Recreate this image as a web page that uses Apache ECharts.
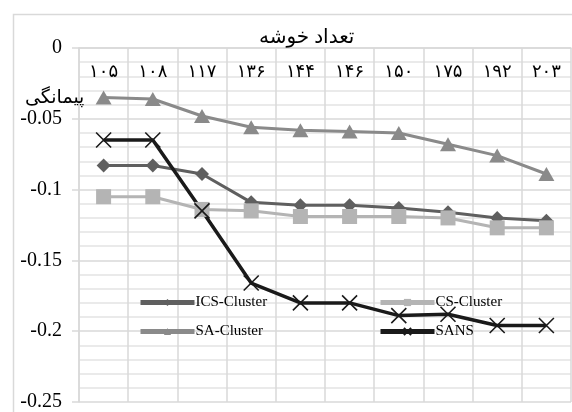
<!DOCTYPE html>
<html>
<head>
<meta charset="utf-8">
<script src="https://cdn.jsdelivr.net/npm/echarts@6/dist/echarts.min.js"></script>
<style>
html,body{margin:0;padding:0;background:#fff;}
#chart{width:572px;height:412px;}
</style>
</head>
<body>
<div id="chart"></div>
<script>
const categories = ['۱۰۵','۱۰۸','۱۱۷','۱۳۶','۱۴۴','۱۴۶','۱۵۰','۱۷۵','۱۹۲','۲۰۳'];
const icsCluster = [-0.083,-0.083,-0.089,-0.109,-0.111,-0.111,-0.113,-0.116,-0.120,-0.122];
const csCluster  = [-0.105,-0.105,-0.114,-0.115,-0.119,-0.119,-0.119,-0.120,-0.127,-0.127];
const saCluster  = [-0.035,-0.036,-0.048,-0.056,-0.058,-0.059,-0.060,-0.068,-0.076,-0.089];
const sans       = [-0.065,-0.065,-0.115,-0.166,-0.180,-0.180,-0.189,-0.188,-0.196,-0.196];
const xTitle = 'تعداد خوشه';
const yTitle = 'پیمانگی';

const serif = "'Liberation Serif','Times New Roman','DejaVu Serif','DejaVu Sans',serif";
const gridColor = '#d9d9d9';
const xPath = 'path://M0,0L10,10M10,0L0,10';

const chart = echarts.init(document.getElementById('chart'));
chart.setOption({
  animation:false,
  backgroundColor:'#fff',
  graphic:[{type:'rect',left:11,top:12,shape:{width:620,height:460},style:{fill:'none',stroke:gridColor,lineWidth:1.5},silent:true}],
  title:[
    {text:xTitle,left:254,top:23,textStyle:{fontFamily:serif,fontSize:20,fontWeight:'normal',color:'#000'}},
    {text:yTitle,left:20,top:84,textStyle:{fontFamily:serif,fontSize:19,fontWeight:'normal',color:'#000'}}
  ],
  grid:{left:79,right:1,top:48,bottom:8,containLabel:false},
  legend:[
    {orient:'vertical',left:133,top:290,itemGap:14,itemWidth:54,itemHeight:9,
     lineStyle:{width:5},
     data:['ICS-Cluster','SA-Cluster'],textStyle:{fontFamily:serif,fontSize:15,color:'#000',padding:[0,0,0,-4]}},
    {orient:'vertical',left:373,top:290,itemGap:14,itemWidth:54,itemHeight:9,
     lineStyle:{width:5},
     data:['CS-Cluster','SANS'],textStyle:{fontFamily:serif,fontSize:15,color:'#000',padding:[0,0,0,-4]}}
  ],
  xAxis:{type:'category',position:'top',data:categories,boundaryGap:true,
    axisLine:{show:true,lineStyle:{color:gridColor,width:1.5}},
    axisTick:{show:false},
    axisLabel:{inside:true,margin:15,fontFamily:serif,fontSize:18,color:'#000'},
    splitLine:{show:true,lineStyle:{color:gridColor,width:1.5}}},
  yAxis:{type:'value',min:-0.25,max:0,interval:0.05,
    axisLine:{show:true,lineStyle:{color:gridColor,width:1.5}},
    axisTick:{show:true,length:7,lineStyle:{color:gridColor,width:1.5}},
    axisLabel:{margin:17,fontFamily:serif,fontSize:20,color:'#000'},
    splitLine:{show:true,lineStyle:{color:gridColor,width:1.5}},
    minorTick:{show:false,splitNumber:5},
    minorSplitLine:{show:true,lineStyle:{color:'#e3e3e3',width:1.5}}},
  series:[
    {name:'ICS-Cluster',type:'line',data:icsCluster,symbol:'diamond',symbolSize:14,
     lineStyle:{color:'#5f5f5f',width:3},itemStyle:{color:'#5f5f5f'}},
    {name:'CS-Cluster',type:'line',data:csCluster,symbol:'rect',symbolSize:15,
     lineStyle:{color:'#b4b4b4',width:3},itemStyle:{color:'#b4b4b4'}},
    {name:'SA-Cluster',type:'line',data:saCluster,symbol:'triangle',symbolSize:[16,14],
     lineStyle:{color:'#8a8a8a',width:3},itemStyle:{color:'#8a8a8a'}},
    {name:'SANS',type:'line',data:sans,symbol:xPath,symbolSize:15,
     lineStyle:{color:'#1a1a1a',width:3.5},itemStyle:{color:'#1a1a1a',borderColor:'#1a1a1a',borderWidth:1.6}}
  ]
});
</script>
</body>
</html>
